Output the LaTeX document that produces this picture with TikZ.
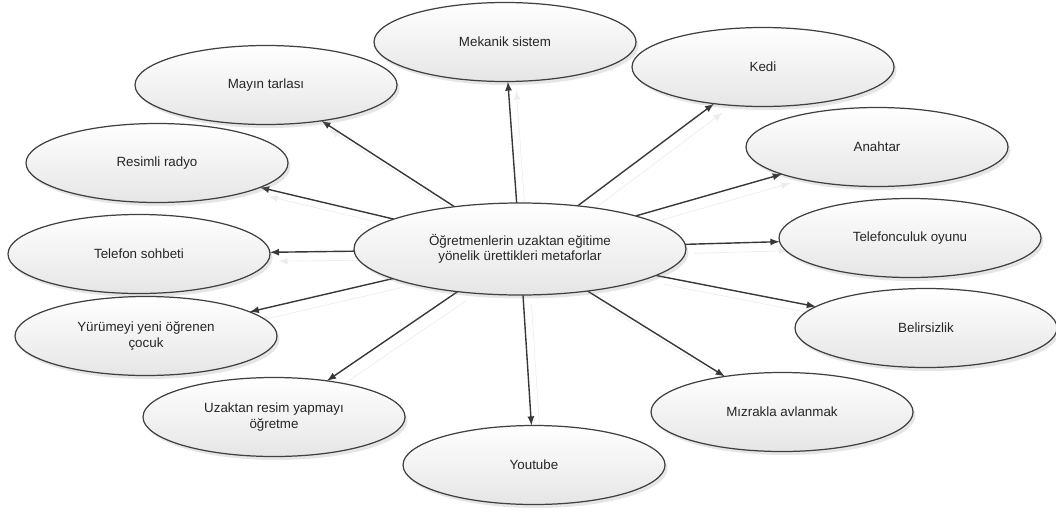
\documentclass[tikz,border=0pt]{standalone}
\usepackage{fontspec}
\setmainfont{Liberation Sans}
\usepackage{tkz-graph}
\usetikzlibrary{calc}
\usetikzlibrary{arrows}
\usetikzlibrary{shapes.geometric}
\usetikzlibrary{shadows}
\usetikzlibrary{backgrounds}

\begin{document}
\begin{tikzpicture}
		\useasboundingbox (0,0) rectangle (21.12,-10.24);
		
		\tikzset{VertexStyle/.style = {draw = black!75, shape = ellipse, line width = 0.7pt,
				top color = white, bottom color = black!10, text = black!85,
				drop shadow = {opacity = 0.2, shadow xshift = 0.05cm, shadow yshift = -0.07cm},
				font = \fontsize{7.6}{8.6}\selectfont, align = center, inner sep = 0pt,
				minimum width = 6.64cm, minimum height = 1.84cm}}
		\Vertex[x=10.4, y=-4.98, L={Öğretmenlerin uzaktan eğitime\\yönelik ürettikleri metaforlar}]{M}
		
		\tikzset{VertexStyle/.append style = {minimum width = 5.24cm, minimum height = 1.58cm}}
		\Vertex[x=10.1, y=-0.84, L={Mekanik sistem}]{Mek}
		\Vertex[x=5.32, y=-1.7, L={Mayın tarlası}]{May}
		\Vertex[x=3.14, y=-3.26, L={Resimli radyo}]{Rad}
		\Vertex[x=2.78, y=-5.08, L={Telefon sohbeti}]{Soh}
		\Vertex[x=2.92, y=-6.72, L={Yürümeyi yeni öğrenen\\çocuk}]{Coc}
		\Vertex[x=5.48, y=-8.34, L={Uzaktan resim yapmayı\\öğretme}]{Res}
		\Vertex[x=10.68, y=-9.3, L={Youtube}]{You}
		\Vertex[x=15.64, y=-8.24, L={Mızrakla avlanmak}]{Miz}
		\Vertex[x=18.52, y=-6.56, L={Belirsizlik}]{Bel}
		\Vertex[x=18.2, y=-4.76, L={Telefonculuk oyunu}]{Oyu}
		\Vertex[x=17.54, y=-2.94, L={Anahtar}]{Ana}
		\Vertex[x=15.26, y=-1.34, L={Kedi}]{Ked}
		
		\tikzset{>=latex} % arrowheads
		\tikzset{EdgeStyle/.style = {->, draw = black!78, line width = 0.8pt,
				preaction = {draw = black!7, transform canvas = {shift = {(0.17,-0.18)}}}}}
		
		\begin{pgfonlayer}{background}
		\Edge(M)(Mek)
		\Edge(M)(May)
		\Edge(M)(Rad)
		\Edge(M)(Soh)
		\Edge(M)(Coc)
		\Edge(M)(Res)
		\Edge(M)(You)
		\Edge(M)(Miz)
		\Edge(M)(Bel)
		\Edge(M)(Oyu)
		\Edge(M)(Ana)
		\Edge(M)(Ked)
		\end{pgfonlayer}
		\end{tikzpicture}
\end{document}
